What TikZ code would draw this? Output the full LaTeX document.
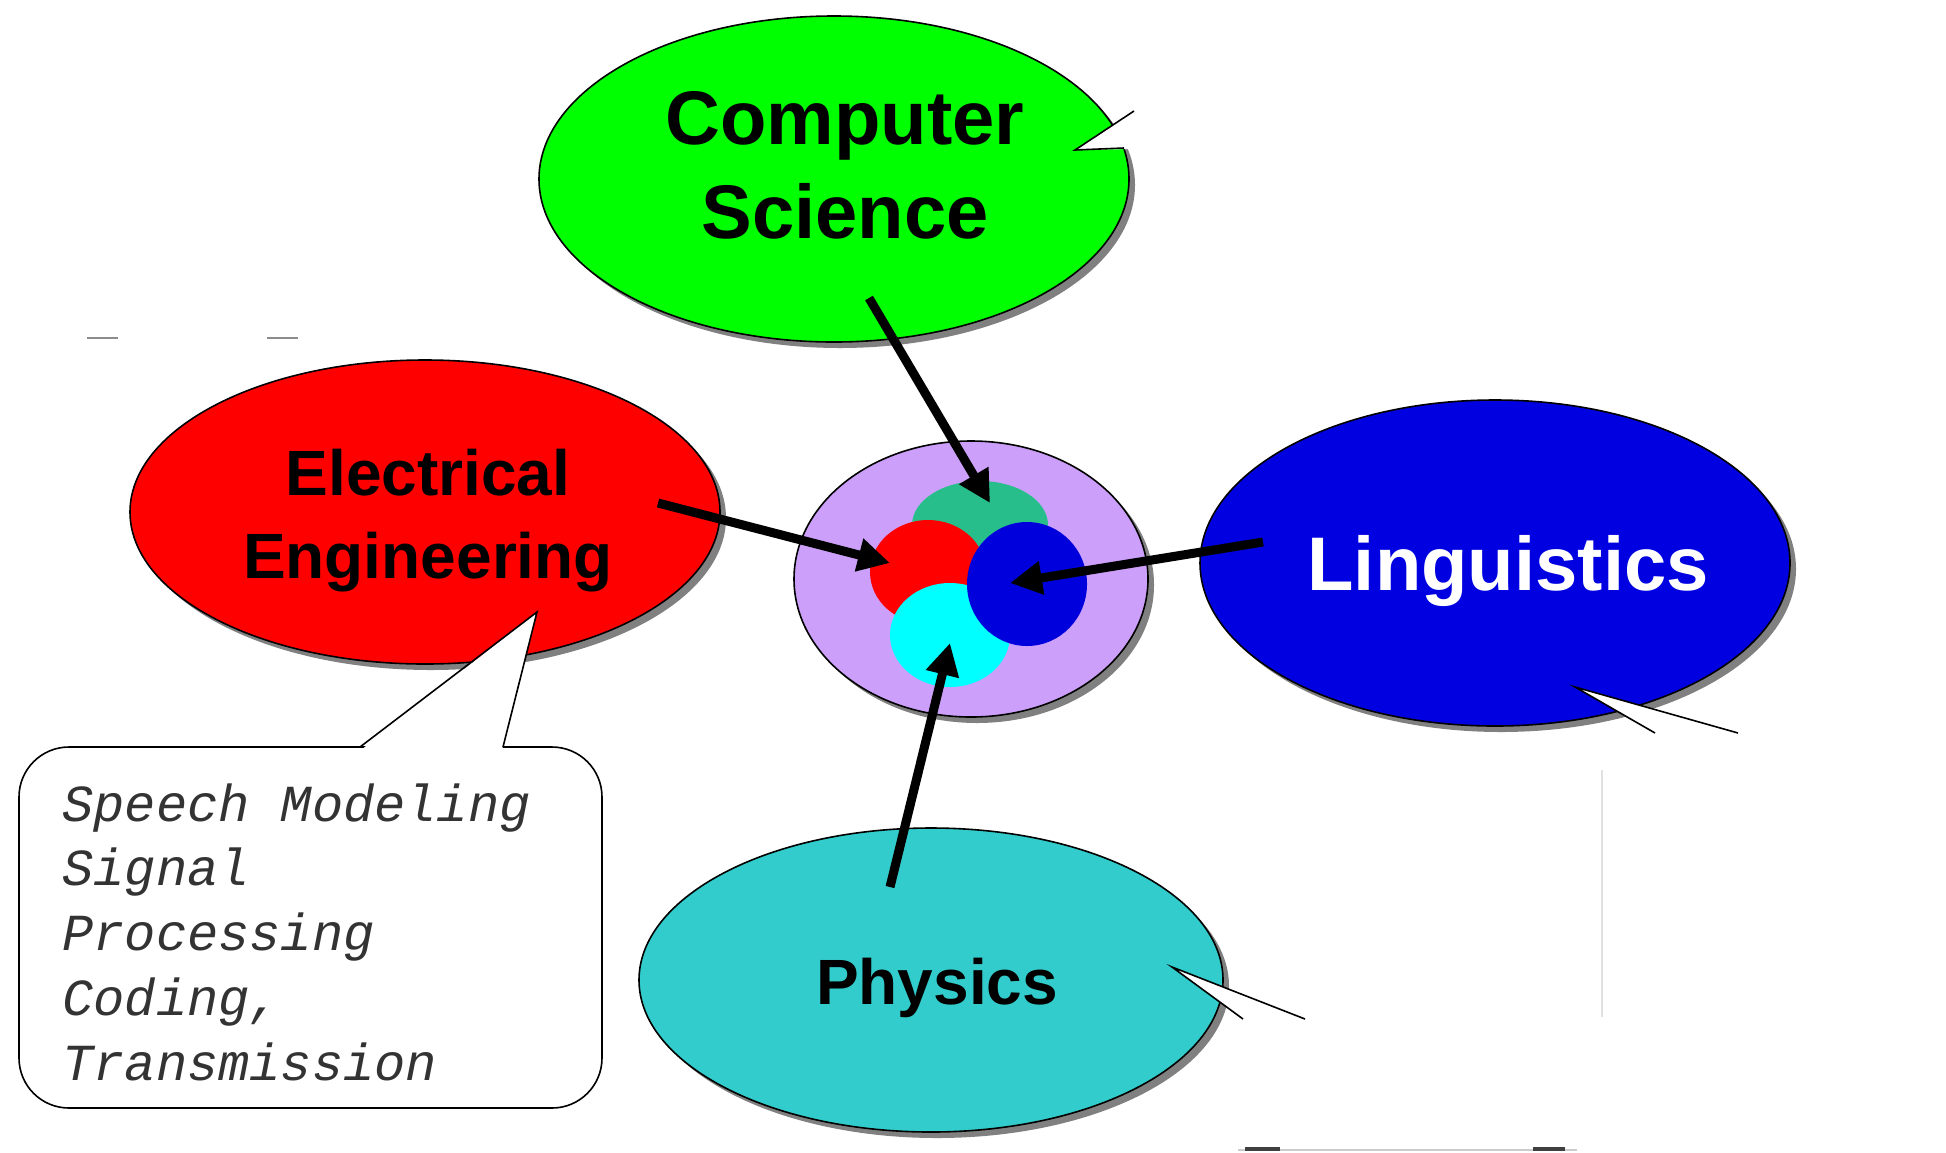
\documentclass[tikz,border=0pt]{standalone}
\usepackage{xcolor}
\usepackage{tikz}
\usetikzlibrary{shapes.geometric,shadows,arrows.meta,positioning}
\usepackage{fontspec}
\newfontfamily\headfont{Liberation Sans}
\newfontfamily\notefont{Liberation Mono}

\begin{document}
\begin{tikzpicture}[x=0.5pt,y=0.5pt,yscale=-1,
  bubble/.style={ellipse, draw=black, line width=0.8pt, inner sep=0pt,
    drop shadow={shadow xshift=3pt, shadow yshift=-3pt, opacity=1,
      fill={rgb, 255:red, 128; green, 128; blue, 128 }}},
  blob/.style={ellipse, draw=none, inner sep=0pt},
  bigtitle/.style={font=\headfont\bfseries\fontsize{38}{47}\selectfont, align=center, inner sep=0pt},
  smalltitle/.style={font=\headfont\bfseries\fontsize{32}{41.5}\selectfont, align=center, inner sep=0pt},
  notebox/.style={rectangle, rounded corners=25pt, draw=black, line width=0.8pt, fill=white, inner sep=0pt},
  notetext/.style={font=\notefont\itshape\fontsize{26}{32.4}\selectfont, align=left, inner sep=0pt,
    text={rgb, 255:red, 51; green, 51; blue, 51 }},
  tailline/.style={draw=black, line width=0.8pt, line join=miter},
  bigarrow/.style={line width=4.5pt, -{Triangle[length=16pt,width=16pt]}}
]
\fill[white] (0,0) rectangle (1946,1152);
\useasboundingbox (0,0) rectangle (1946,1152);

%Shape: Ellipse
\node[bubble, fill={rgb, 255:red, 0; green, 255; blue, 0 }, minimum width=295pt, minimum height=163pt] (cs) at (834,179) {};
%Shape: Ellipse
\node[bubble, fill={rgb, 255:red, 255; green, 0; blue, 0 }, minimum width=295pt, minimum height=152pt] (ee) at (425,512) {};
%Shape: Ellipse
\node[bubble, fill={rgb, 255:red, 0; green, 0; blue, 225 }, minimum width=295pt, minimum height=163pt] (li) at (1495,563) {};
%Shape: Ellipse
\node[bubble, fill={rgb, 255:red, 51; green, 204; blue, 204 }, minimum width=292pt, minimum height=152pt] (ph) at (931,980) {};

%Shape: Ellipse
\node[bubble, fill={rgb, 255:red, 204; green, 160; blue, 250 }, minimum width=177pt, minimum height=138pt] (core) at (971,579) {};
%Shape: Ellipse
\node[blob, fill={rgb, 255:red, 40; green, 190; blue, 140 }, minimum width=68pt, minimum height=44pt] (core-cs) at (980,525) {};
\node[blob, fill={rgb, 255:red, 255; green, 0; blue, 0 }, minimum width=58pt, minimum height=52pt] (core-ee) at (928,572) {};
\node[blob, fill={rgb, 255:red, 0; green, 255; blue, 255 }, minimum width=60pt, minimum height=52pt] (core-ph) at (950,635) {};
\node[blob, fill={rgb, 255:red, 0; green, 0; blue, 220 }, minimum width=60pt, minimum height=62pt] (core-li) at (1027,584) {};

%Shape: Callout tails
\fill[white] (1075,150) -- (1134,111) -- (1134,149) -- cycle ;
\draw[tailline] (1134,111) -- (1075,150) -- (1124,148) ;
\fill[white] (1575,687) -- (1738,733) -- (1655,733) -- cycle ;
\draw[tailline] (1738,733) -- (1575,687) -- (1655,733) ;
\fill[white] (1172,967) -- (1305,1019) -- (1243,1019) -- cycle ;
\draw[tailline] (1305,1019) -- (1172,967) -- (1243,1019) ;

%Shape: Rounded Rectangle
\node[notebox, minimum width=291.5pt, minimum height=180.5pt] (ee-note) at (310.5,927.5) {};
\fill[white] (361,750) -- (537,612) -- (502,750) -- cycle ;
\draw[tailline] (360,747) -- (537,612) -- (503,747) ;

% Text Node
\node[bigtitle] (cs-label) at (845,165) {Computer\\Science};
% Text Node
\node[smalltitle] (ee-label) at (428,521) {Electrical\\Engineering};
% Text Node
\node[bigtitle, text=white] (li-label) at (1508,571) {Linguistics};
% Text Node
\node[smalltitle] (ph-label) at (937,988) {Physics};
% Text Node
\node[notetext, anchor=west] (ee-note-text) at (62,932) {Speech Modeling\\Signal\\Processing\\Coding,\\Transmission};

%Straight Lines
\coordinate (cs-from) at (869,298);
\coordinate (cs-to) at (990,503);
\coordinate (ee-from) at (658,503);
\coordinate (ee-to) at (890,563);
\coordinate (li-from) at (1263,542);
\coordinate (li-to) at (1010,583);
\coordinate (ph-from) at (890,887);
\coordinate (ph-to) at (950,643);
\draw[bigarrow] (cs-from) -- (cs-to);
\draw[bigarrow] (ee-from) -- (ee-to);
\draw[bigarrow] (li-from) -- (li-to);
\draw[bigarrow] (ph-from) -- (ph-to);

%Straight Lines (scan marks)
\draw[line width=1pt, black!45] (87,338) -- (118,338) ;
\draw[line width=1pt, black!45] (267,338) -- (298,338) ;
\draw[line width=0.8pt, black!20] (1238,1150) -- (1577,1150) ;
\draw[line width=2pt, black!75] (1245,1149) -- (1280,1149) ;
\draw[line width=2pt, black!75] (1533,1149) -- (1565,1149) ;
\draw[line width=0.6pt, black!12] (1602,770) -- (1602,1017) ;

\end{tikzpicture}
\end{document}
